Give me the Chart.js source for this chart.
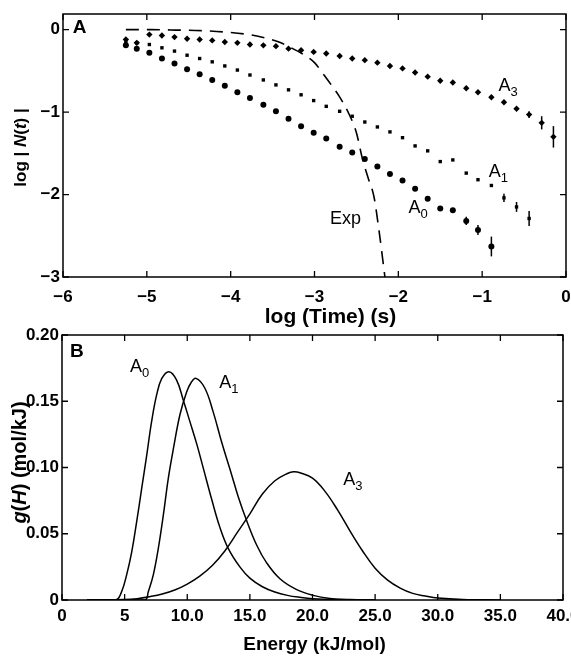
<!DOCTYPE html>
<html><head><meta charset="utf-8">
<script src="https://cdn.jsdelivr.net/npm/chart.js@4.4.0/dist/chart.umd.min.js"></script>
<style>
html,body{margin:0;padding:0;background:#fff;}
#wrap{position:relative;width:571px;height:656px;overflow:hidden;background:#fff;}
#cA{position:absolute;left:0;top:0;}
#cB{position:absolute;left:0;top:320px;}
</style></head><body>
<div id="wrap">
<canvas id="cA" width="571" height="340" style="width:571px;height:340px"></canvas>
<canvas id="cB" width="571" height="336" style="width:571px;height:336px"></canvas>
</div>
<script>
// ---------- Panel A data ----------
const logTime = [-5.25,-5.12,-4.97,-4.82,-4.67,-4.52,-4.37,-4.22,-4.07,-3.92,-3.77,-3.61,-3.46,-3.31,-3.16,-3.01,-2.86,-2.70,-2.55,-2.40,-2.25,-2.10,-1.95,-1.80,-1.65,-1.50,-1.35,-1.19,-1.05,-0.89,-0.74,-0.59,-0.44,-0.29,-0.15];
const a3LogN = [-0.12,-0.16,-0.06,-0.07,-0.09,-0.11,-0.12,-0.13,-0.15,-0.16,-0.18,-0.19,-0.20,-0.23,-0.25,-0.27,-0.29,-0.32,-0.35,-0.37,-0.40,-0.44,-0.47,-0.52,-0.57,-0.62,-0.64,-0.71,-0.76,-0.82,-0.88,-0.96,-1.03,-1.13,-1.30];
const a3Err  = [0,0,0,0,0,0,0,0,0,0,0,0,0,0,0,0,0,0,0,0,0,0,0,0,0,0,0,0,0,0,0,0,0.04,0.08,0.13];
const a1LogN = [-0.15,-0.16,-0.18,-0.22,-0.26,-0.31,-0.35,-0.39,-0.44,-0.49,-0.55,-0.61,-0.67,-0.73,-0.79,-0.86,-0.93,-0.99,-1.05,-1.12,-1.18,-1.24,-1.31,-1.41,-1.47,-1.60,-1.58,-1.74,-1.82,-1.89,-2.04,-2.15,-2.29];
const a1Err  = [0,0,0,0,0,0,0,0,0,0,0,0,0,0,0,0,0,0,0,0,0,0,0,0,0,0,0,0,0,0,0.05,0.06,0.09];
const a0LogN = [-0.19,-0.23,-0.28,-0.35,-0.41,-0.48,-0.54,-0.61,-0.68,-0.76,-0.83,-0.91,-0.99,-1.08,-1.17,-1.25,-1.32,-1.42,-1.49,-1.57,-1.66,-1.75,-1.83,-1.93,-2.05,-2.17,-2.19,-2.32,-2.43,-2.63];
const a0Err  = [0,0,0,0,0,0,0,0,0,0,0,0,0,0,0,0,0,0,0,0,0,0,0,0,0,0,0,0.05,0.06,0.12];
const expLogTime = [-5.25,-4.95,-4.65,-4.35,-4.05,-3.75,-3.55,-3.40,-3.30,-3.15,-3.00,-2.88,-2.80,-2.71,-2.59,-2.50,-2.43,-2.36,-2.29,-2.23,-2.16];
const expLogN    = [0,0,-0.005,-0.012,-0.03,-0.065,-0.11,-0.16,-0.21,-0.29,-0.40,-0.56,-0.67,-0.80,-1.02,-1.25,-1.56,-1.80,-2.03,-2.44,-3.0];
const xTicksA = [-6,-5,-4,-3,-2,-1,0];
const xTickLabelsA = ['\u22126','\u22125','\u22124','\u22123','\u22122','\u22121','0'];
const yTicksA = [-3,-2,-1,0];
const yTickLabelsA = ['\u22123','\u22122','\u22121','0'];

// ---------- Panel B data ----------
const energyA0 = [2,4.3,4.76,5.16,5.56,5.96,6.36,6.76,7.16,7.56,7.96,8.54,9.15,9.68,10.2,10.75,11.28,11.95,12.6,13.27,14.2,15,16,17,18,19,20,22,25];
const gA0      = [0,0,0.0063,0.019,0.036,0.059,0.084,0.109,0.135,0.155,0.167,0.1723,0.166,0.151,0.135,0.118,0.0995,0.076,0.055,0.039,0.025,0.0165,0.010,0.006,0.0035,0.002,0.001,0.0003,0];
const energyA1 = [2,6.62,6.89,7.29,7.69,8.09,8.49,8.89,9.42,9.95,10.3,10.7,11.4,12.07,12.75,13.4,14.07,14.74,15.54,16.34,17.4,18.7,20.05,21.4,23,25];
const gA1      = [0,0,0.0063,0.019,0.039,0.064,0.092,0.114,0.140,0.157,0.164,0.1673,0.160,0.142,0.119,0.099,0.078,0.060,0.0415,0.028,0.016,0.008,0.0035,0.0012,0.0003,0];
const energyA3 = [2,5,6,7,8,9,10,11,12,13,14,15,16,17,18,18.5,19,20,21,22,23,24,25,26,27,28,29,30,32,35];
const gA3      = [0,0.0003,0.001,0.0025,0.0045,0.0075,0.012,0.018,0.026,0.037,0.051,0.065,0.080,0.090,0.0955,0.0967,0.096,0.092,0.082,0.068,0.052,0.037,0.024,0.015,0.009,0.005,0.003,0.0015,0.0004,0];
const xTicksB = [0,5,10,15,20,25,30,35,40];
const xTickLabelsB = ['0','5','10.0','15.0','20.0','25.0','30.0','35.0','40.0'];
const yTicksB = [0,0.05,0.10,0.15,0.20];
const yTickLabelsB = ['0','0.05','0.10','0.15','0.20'];

// ---------- helpers ----------
const FONT = '"Liberation Sans", Arial, Helvetica, sans-serif';
const toXY = (xs, ys) => xs.map((v,i)=>({x:v, y:ys[i]}));

const frameTicks = {
  id:'frameTicks',
  afterDatasetsDraw(chart){
    const {ctx, chartArea:{left,right,top,bottom}, scales:{x,y}} = chart;
    ctx.save();
    ctx.strokeStyle='#000';
    ctx.lineWidth=1.5;
    ctx.strokeRect(left,top,right-left,bottom-top);
    const L=6;
    ctx.lineWidth=1.3;
    ctx.beginPath();
    x.ticks.forEach(t=>{const px=x.getPixelForValue(t.value);ctx.moveTo(px,bottom);ctx.lineTo(px,bottom-L);ctx.moveTo(px,top);ctx.lineTo(px,top+L);});
    y.ticks.forEach(t=>{const py=y.getPixelForValue(t.value);ctx.moveTo(left,py);ctx.lineTo(left+L,py);ctx.moveTo(right,py);ctx.lineTo(right-L,py);});
    ctx.stroke();
    ctx.restore();
  }
};
const errBars = {
  id:'errBars',
  afterDatasetsDraw(chart){
    const {ctx, scales:{y}} = chart;
    ctx.save(); ctx.strokeStyle='#000'; ctx.lineWidth=1.5;
    chart.data.datasets.forEach((ds,di)=>{
      if(!ds.errors) return;
      const meta=chart.getDatasetMeta(di);
      ds.errors.forEach((e,i)=>{
        if(!e) return;
        const el=meta.data[i]; const v=ds.data[i].y;
        ctx.beginPath(); ctx.moveTo(el.x,y.getPixelForValue(v+e)); ctx.lineTo(el.x,y.getPixelForValue(v-e)); ctx.stroke();
      });
    });
    ctx.restore();
  }
};
const annot = {
  id:'annot',
  afterDatasetsDraw(chart, args, opts){
    const {ctx, scales:{x,y}} = chart;
    ctx.save(); ctx.fillStyle='#000'; ctx.textBaseline='alphabetic'; ctx.textAlign='left';
    (opts.items||[]).forEach(it=>{
      const px=x.getPixelForValue(it.x), py=y.getPixelForValue(it.y);
      ctx.font=(it.bold?'bold ':'')+(it.size||18)+'px '+FONT;
      ctx.fillText(it.text,px,py);
      if(it.sub){const w=ctx.measureText(it.text).width; ctx.font='13px '+FONT; ctx.fillText(it.sub,px+w,py+5);}
    });
    ctx.restore();
  }
};
// axis titles (y rotated with italic parts; x centred with offset)
const axisTitles = {
  id:'axisTitles',
  afterDraw(chart, args, opts){
    const {ctx, chartArea} = chart;
    const f=(p,size)=>(p.i?'italic ':'')+'bold '+size+'px '+FONT;
    ctx.save(); ctx.fillStyle='#000'; ctx.textBaseline='middle'; ctx.textAlign='left';
    if(opts.y){
      const o=opts.y;
      ctx.save();
      ctx.translate(o.x,(chartArea.top+chartArea.bottom)/2+(o.dy||0));
      ctx.rotate(-Math.PI/2);
      let total=0; o.parts.forEach(p=>{ctx.font=f(p,o.size); total+=ctx.measureText(p.t).width;});
      let cx=-total/2;
      o.parts.forEach(p=>{ctx.font=f(p,o.size); ctx.fillText(p.t,cx,0); cx+=ctx.measureText(p.t).width;});
      ctx.restore();
    }
    if(opts.x){
      const o=opts.x;
      ctx.font=f({},o.size); ctx.textAlign='center';
      ctx.fillText(o.text,(chartArea.left+chartArea.right)/2+(o.dx||0),chartArea.bottom+o.dy);
    }
    ctx.restore();
  }
};
const tickFont = {family:FONT, size:17, weight:'bold', lineHeight:1};
function axis(min,max,ticks,labels,pad,opt){
  return Object.assign({
    type:'linear', min:min, max:max,
    grid:{display:false, drawTicks:false}, border:{display:false},
    afterBuildTicks:s=>{s.ticks=ticks.map(v=>({value:v}));},
    ticks:{font:tickFont, color:'#000', padding:pad, maxRotation:0, autoSkip:false, callback:(v,i)=>labels[i]},
    title:{display:false}
  }, opt);
}

// ---------- Panel A ----------
new Chart(document.getElementById('cA'), {
  type:'scatter',
  data:{datasets:[
    {label:'Exp', data:toXY(expLogTime,expLogN), showLine:true, borderColor:'#000', borderWidth:1.6, borderDash:[13,8], pointRadius:0, cubicInterpolationMode:'monotone', fill:false},
    {label:'A3', data:toXY(logTime.slice(0,a3LogN.length),a3LogN), errors:a3Err, pointStyle:'rectRot', pointRadius:3.2, backgroundColor:'#000', borderColor:'#000', borderWidth:0},
    {label:'A1', data:toXY(logTime.slice(0,a1LogN.length),a1LogN), errors:a1Err, pointStyle:'rect', pointRadius:2.4, backgroundColor:'#000', borderColor:'#000', borderWidth:0},
    {label:'A0', data:toXY(logTime.slice(0,a0LogN.length),a0LogN), errors:a0Err, pointStyle:'circle', pointRadius:3.0, backgroundColor:'#000', borderColor:'#000', borderWidth:0}
  ]},
  options:{
    responsive:false, animation:false, devicePixelRatio:1,
    layout:{padding:{top:14,right:5,left:0,bottom:0}},
    plugins:{
      legend:{display:false}, tooltip:{enabled:false},
      annot:{items:[
        {text:'A', x:-5.884, y:-0.04, bold:true, size:19},
        {text:'A', sub:'3', x:-0.806, y:-0.75},
        {text:'A', sub:'1', x:-0.922, y:-1.782},
        {text:'A', sub:'0', x:-1.878, y:-2.225},
        {text:'Exp', x:-2.814, y:-2.355}
      ]},
      axisTitles:{
        y:{x:21, dy:2, size:17, parts:[{t:'log | '},{t:'N',i:true},{t:'('},{t:'t',i:true},{t:') |'}]},
        x:{text:'log (Time) (s)', size:21, dx:16, dy:40}
      }
    },
    scales:{
      x:axis(-6,0,xTicksA,xTickLabelsA,11.5,{afterFit:s=>{s.height=63;s.paddingLeft=0;s.paddingRight=0;}}),
      y:axis(-3,0.19,yTicksA,yTickLabelsA,3,{afterFit:s=>{s.width=63;s.paddingTop=0;s.paddingBottom=0;}})
    }
  },
  plugins:[frameTicks, errBars, annot, axisTitles]
});

// ---------- Panel B ----------
const lineDs = (label,xs,ys)=>({label:label, data:toXY(xs,ys), showLine:true, borderColor:'#000', borderWidth:1.5, pointRadius:0, tension:0.4, fill:false});
new Chart(document.getElementById('cB'), {
  type:'scatter',
  data:{datasets:[lineDs('A0',energyA0,gA0), lineDs('A1',energyA1,gA1), lineDs('A3',energyA3,gA3)]},
  options:{
    responsive:false, animation:false, devicePixelRatio:1,
    layout:{padding:{top:15,right:8,left:0,bottom:0}},
    plugins:{
      legend:{display:false}, tooltip:{enabled:false},
      annot:{items:[
        {text:'B', x:0.64, y:0.1836, bold:true, size:19},
        {text:'A', sub:'0', x:5.43, y:0.1723},
        {text:'A', sub:'1', x:12.55, y:0.1598},
        {text:'A', sub:'3', x:22.45, y:0.0868}
      ]},
      axisTitles:{
        y:{x:20, dy:-5, size:20, parts:[{t:'g',i:true},{t:'('},{t:'H',i:true},{t:') (mol/kJ)'}]},
        x:{text:'Energy (kJ/mol)', size:19, dx:2, dy:45}
      }
    },
    scales:{
      x:axis(0,40,xTicksB,xTickLabelsB,7.5,{afterFit:s=>{s.height=56;s.paddingLeft=0;s.paddingRight=0;}}),
      y:axis(0,0.2,yTicksB,yTickLabelsB,3,{afterFit:s=>{s.width=62;s.paddingTop=0;s.paddingBottom=0;}})
    }
  },
  plugins:[frameTicks, annot, axisTitles]
});
</script>
</body></html>
